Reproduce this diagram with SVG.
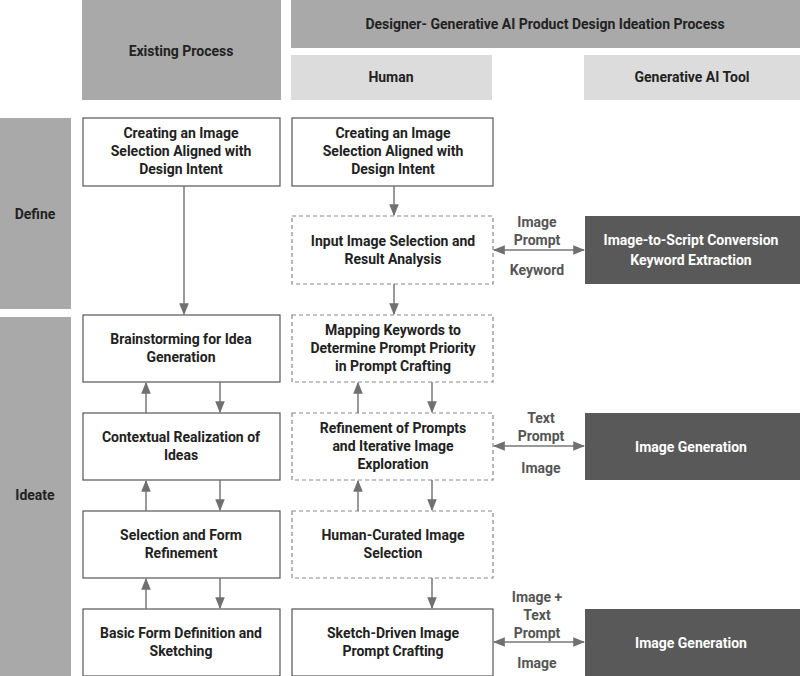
<svg xmlns="http://www.w3.org/2000/svg" width="800" height="676" viewBox="0 0 800 676">
<defs>
<marker id="ah" viewBox="0 0 10 10" refX="9" refY="5" markerWidth="8" markerHeight="8" orient="auto-start-reverse"><path d="M0,1 L10,5 L0,9 z" fill="#707070"/></marker>
<style>
text{font-family:Roboto,"Liberation Sans",sans-serif;font-weight:bold;font-size:14px;text-anchor:middle;fill:#222}
.hd{fill:#a9a9a9}
.lt{fill:#dcdcdc}
.b{fill:#fff;stroke:#555;stroke-width:1.2}
.d{fill:#fff;stroke:#888;stroke-width:1.2;stroke-dasharray:4,3}
.ai{fill:#595959}
.ai+text,.w{fill:#fff}
.c line{stroke:#777;stroke-width:1.5;marker-end:url(#ah)}
.c .bi{marker-start:url(#ah)}
.lb{fill:#555}
</style>
</defs>
<g id="h-existing"><rect class="hd" x="82" y="0" width="199" height="100"/><text x="181" y="56">Existing Process</text></g>
<g id="h-designer"><rect class="hd" fill="#a0a0a0" x="291" y="0" width="509" height="48"/><text x="545" y="29">Designer- Generative AI Product Design Ideation Process</text></g>
<g id="h-human"><rect class="lt" x="291" y="55" width="201" height="45"/><text x="391" y="82">Human</text></g>
<g id="h-ai"><rect class="lt" x="584" y="55" width="216" height="45"/><text x="692" y="82">Generative AI Tool</text></g>
<g id="define"><rect class="hd" x="0" y="118" width="71" height="191"/><text x="35" y="219">Define</text></g>
<g id="ideate"><rect class="hd" x="0" y="317" width="71" height="359"/><text x="35" y="500">Ideate</text></g>

<g id="e1"><rect class="b" x="83" y="118" width="197" height="68"/><text x="181" y="138">Creating an Image</text><text x="181" y="156">Selection Aligned with</text><text x="181" y="174">Design Intent</text></g>
<g id="e2"><rect class="b" x="83" y="315" width="197" height="67"/><text x="181" y="344">Brainstorming for Idea</text><text x="181" y="362">Generation</text></g>
<g id="e3"><rect class="b" x="83" y="413" width="197" height="67"/><text x="181" y="442">Contextual Realization of</text><text x="181" y="460">Ideas</text></g>
<g id="e4"><rect class="b" x="83" y="511" width="197" height="67"/><text x="181" y="540">Selection and Form</text><text x="181" y="558">Refinement</text></g>
<g id="e5"><rect class="b" x="83" y="609" width="197" height="67"/><text x="181" y="638">Basic Form Definition and</text><text x="181" y="656">Sketching</text></g>

<g id="m1"><rect class="b" x="292" y="118" width="201" height="68"/><text x="393" y="138">Creating an Image</text><text x="393" y="156">Selection Aligned with</text><text x="393" y="174">Design Intent</text></g>
<g id="m2"><rect class="d" x="292" y="216" width="201" height="68"/><text x="393" y="246">Input Image Selection and</text><text x="393" y="264">Result Analysis</text></g>
<g id="m3"><rect class="d" x="292" y="315" width="201" height="67"/><text x="393" y="335">Mapping Keywords to</text><text x="393" y="353">Determine Prompt Priority</text><text x="393" y="371">in Prompt Crafting</text></g>
<g id="m4"><rect class="d" x="292" y="413" width="201" height="67"/><text x="393" y="433">Refinement of Prompts</text><text x="393" y="451">and Iterative Image</text><text x="393" y="469">Exploration</text></g>
<g id="m5"><rect class="d" x="292" y="511" width="201" height="67"/><text x="393" y="540">Human-Curated Image</text><text x="393" y="558">Selection</text></g>
<g id="m6"><rect class="b" x="292" y="609" width="201" height="67"/><text x="393" y="638">Sketch-Driven Image</text><text x="393" y="656">Prompt Crafting</text></g>

<g id="a1"><rect class="ai" x="585" y="216" width="215" height="68"/><text class="w" x="691" y="245">Image-to-Script Conversion</text><text class="w" x="691" y="265">Keyword Extraction</text></g>
<g id="a2"><rect class="ai" x="585" y="413" width="215" height="67"/><text class="w" x="691" y="452">Image Generation</text></g>
<g id="a3"><rect class="ai" x="585" y="609" width="215" height="67"/><text class="w" x="691" y="648">Image Generation</text></g>

<g id="connectors" class="c">
<line x1="184" y1="186" x2="184" y2="314"/>
<line x1="146" y1="413" x2="146" y2="383"/><line x1="220" y1="382" x2="220" y2="412"/>
<line x1="146" y1="511" x2="146" y2="481"/><line x1="220" y1="480" x2="220" y2="510"/>
<line x1="146" y1="609" x2="146" y2="579"/><line x1="220" y1="578" x2="220" y2="608"/>
<line x1="394" y1="186" x2="394" y2="215"/>
<line x1="394" y1="284" x2="394" y2="314"/>
<line x1="358" y1="413" x2="358" y2="383"/><line x1="432" y1="382" x2="432" y2="412"/>
<line x1="358" y1="511" x2="358" y2="481"/><line x1="432" y1="480" x2="432" y2="510"/>
<line x1="432" y1="578" x2="432" y2="608"/>
<line class="bi" x1="494" y1="250" x2="584" y2="250"/>
<line class="bi" x1="494" y1="446" x2="584" y2="446"/>
<line class="bi" x1="494" y1="642" x2="584" y2="642"/>
<text class="lb" x="537" y="227">Image</text><text class="lb" x="537" y="245">Prompt</text><text class="lb" x="537" y="275">Keyword</text>
<text class="lb" x="541" y="423">Text</text><text class="lb" x="541" y="441">Prompt</text><text class="lb" x="541" y="473">Image</text>
<text class="lb" x="537" y="602">Image +</text><text class="lb" x="537" y="620">Text</text><text class="lb" x="537" y="638">Prompt</text><text class="lb" x="537" y="668">Image</text>
</g>
</svg>
